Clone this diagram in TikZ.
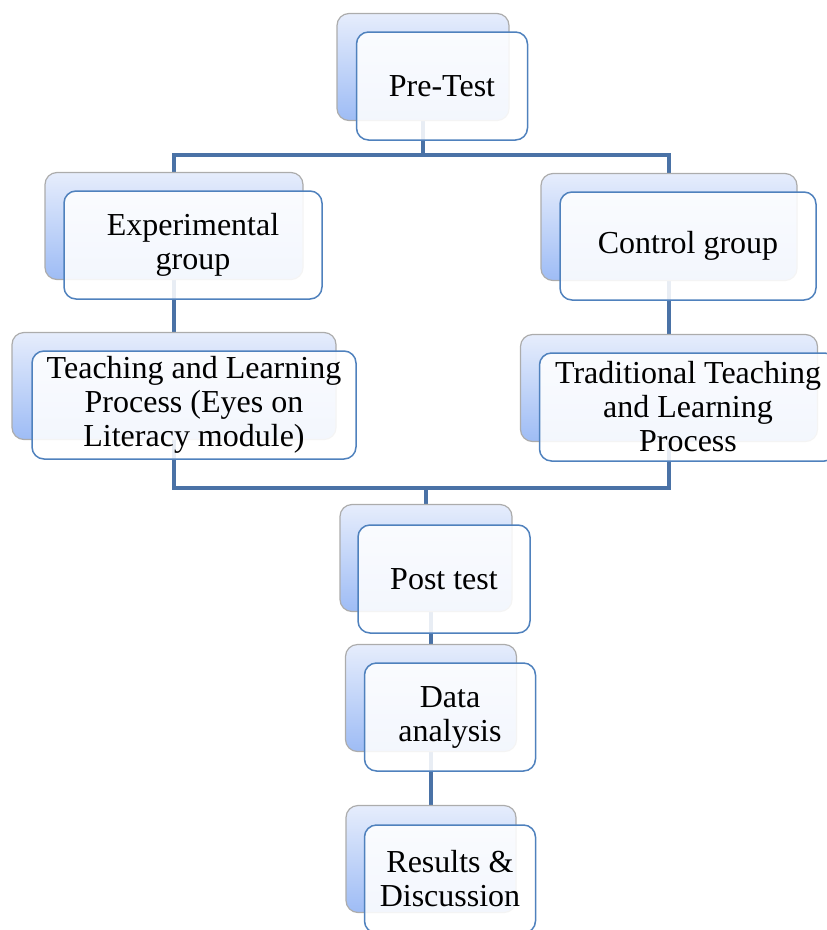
\documentclass[tikz,border=0pt]{standalone}
\usepackage{fontspec}
\setmainfont{Liberation Serif}
\usetikzlibrary{backgrounds}

\definecolor{linkblue}{RGB}{74,114,166}
\definecolor{edgeblue}{RGB}{79,129,189}
\definecolor{backtop}{RGB}{230,237,252}
\definecolor{backbot}{RGB}{158,188,245}

\begin{document}
\begin{tikzpicture}[x=1pt,y=-1pt,
	backbox/.style={rectangle, rounded corners=12pt, draw=gray!65, line width=1.2pt,
		top color=backtop, bottom color=backbot, minimum height=107pt},
	frontbox/.style={rectangle, rounded corners=12pt, draw=edgeblue, line width=1.5pt,
		fill=white, fill opacity=0.88, text opacity=1, align=center,
		minimum height=108pt, font=\fontsize{32}{34}\selectfont},
	link/.style={draw=linkblue, line width=4pt}]

\path [use as bounding box] (0,0) rectangle (827,930);

% BACK PANELS
\node [backbox, minimum width=172pt] (pretestb) at (423,67) {};
\node [backbox, minimum width=258pt] (expb) at (174,226) {};
\node [backbox, minimum width=256pt] (ctrlb) at (669,227) {};
\node [backbox, minimum width=324pt] (teachb) at (174,386) {};
\node [backbox, minimum width=297pt] (tradb) at (669,388) {};
\node [backbox, minimum width=172pt] (postb) at (426,558) {};
\node [backbox, minimum width=171pt] (datab) at (431,698) {};
\node [backbox, minimum width=170pt] (resultsb) at (431,859) {};

% FRONT PANELS
\node [frontbox, minimum width=171pt] (pretest) at ([shift={(19,19)}]pretestb.center) {Pre-Test};
\node [frontbox, minimum width=258pt] (exp) at ([shift={(19,19)}]expb.center) {Experimental\\group};
\node [frontbox, minimum width=256pt] (ctrl) at ([shift={(19,19)}]ctrlb.center) {Control group};
\node [frontbox, minimum width=324pt] (teach) at ([shift={(20,19)}]teachb.center)
	{Teaching and Learning\\Process (Eyes on\\Literacy module)};
\node [frontbox, minimum width=297pt] (trad) at ([shift={(19,19)}]tradb.center)
	{Traditional Teaching\\and Learning\\Process};
\node [frontbox, minimum width=172pt] (post) at ([shift={(18,21)}]postb.center) {Post test};
\node [frontbox, minimum width=171pt] (data) at ([shift={(19,19)}]datab.center) {Data\\analysis};
\node [frontbox, minimum width=171pt] (results) at ([shift={(19,20)}]resultsb.center) {Results \&\\Discussion};

% LINKS
\coordinate (split) at (423,155);
\coordinate (join) at (426,488);
\begin{scope}[on background layer]
\draw [link] (pretestb.south) -- (split);
\draw [link] (split) -| (expb.north);
\draw [link] (split) -| (ctrlb.north);
\draw [link] (expb.south) -- (teachb.north);
\draw [link] (ctrlb.south) -- (tradb.north);
\draw [link] (teachb.south) |- (join);
\draw [link] (tradb.south) |- (join);
\draw [link] (join) -- (postb.north);
\draw [link] (postb.south -| datab.north) -- (datab.north);
\draw [link] (datab.south) -- (resultsb.north);
\end{scope}

\end{tikzpicture}
\end{document}
